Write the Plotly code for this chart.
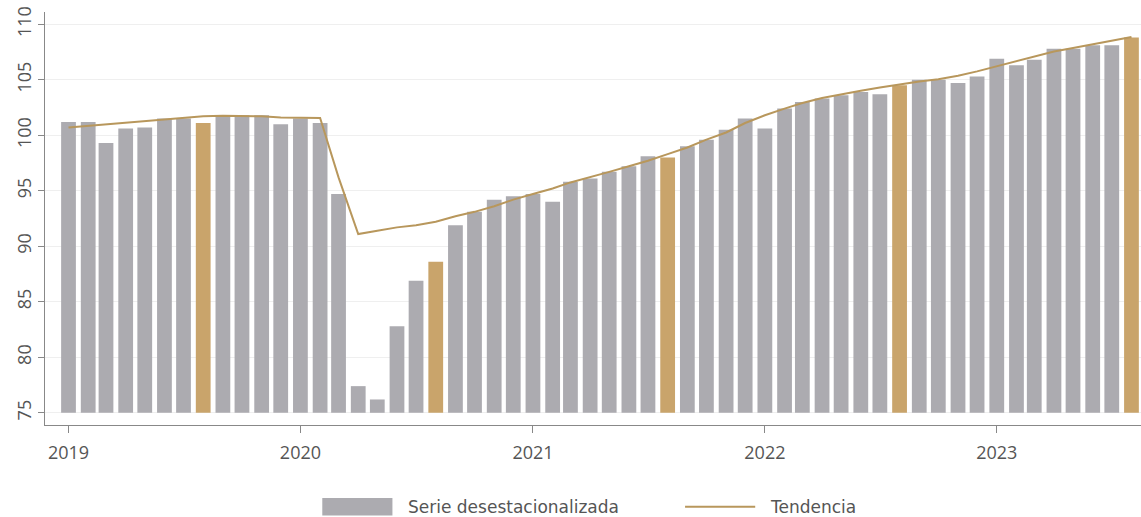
import pandas as pd
import plotly.graph_objects as go

# Monthly index, Jan 2019 - Aug 2023
months = pd.date_range("2019-01-01", "2023-08-01", freq="MS")

# Seasonally adjusted series (bars)
serie = [
    101.2, 101.2, 99.3, 100.6, 100.7, 101.5, 101.5, 101.1, 101.8, 101.8, 101.8, 101.0,
    101.5, 101.1, 94.7, 77.4, 76.2, 82.8, 86.9, 88.6, 91.9, 93.1, 94.2, 94.5,
    94.7, 94.0, 95.8, 96.1, 96.7, 97.2, 98.1, 98.0, 99.0, 99.6, 100.5, 101.5,
    100.6, 102.4, 103.0, 103.3, 103.6, 103.9, 103.7, 104.5, 105.0, 105.0, 104.7, 105.3,
    106.9, 106.3, 106.8, 107.8, 107.8, 108.1, 108.1, 108.8,
]

# Trend line
tendencia = [
    100.7, 100.85, 101.0, 101.1, 101.25, 101.4, 101.55, 101.7, 101.75, 101.75, 101.7, 101.6,
    101.55, 101.55, 96.2, 91.1, 91.4, 91.7, 91.9, 92.2, 92.7, 93.1, 93.6, 94.2,
    94.7, 95.2, 95.75, 96.2, 96.7, 97.2, 97.7, 98.3, 98.9, 99.6, 100.25, 101.1,
    101.8, 102.4, 102.9, 103.35, 103.7, 104.0, 104.3, 104.6, 104.85, 105.05, 105.35, 105.75,
    106.2, 106.65, 107.1, 107.55, 107.85, 108.2, 108.55, 108.85,
]

year_ticks = ["2019-01-01", "2020-01-01", "2021-01-01", "2022-01-01", "2023-01-01"]
year_labels = ["2019", "2020", "2021", "2022", "2023"]

BASE = 75
GRAY = "#acabb0"
GOLD = "#c9a46b"
LINE = "#b8975c"
TEXT = "#555555"

# August bars are highlighted in gold
colors = [GOLD if m.month == 8 else GRAY for m in months]

fig = go.Figure()

fig.add_trace(go.Bar(
    x=months,
    y=[v - BASE for v in serie],
    base=BASE,
    marker_color=colors,
    marker_line_width=0,
    name="Serie desestacionalizada",
))

fig.add_trace(go.Scatter(
    x=months,
    y=tendencia,
    mode="lines",
    line=dict(color=LINE, width=2),
    name="Tendencia",
))

# Legend drawn by hand so the swatches are wide like the original
leg_y = -0.198
fig.add_shape(type="rect", xref="paper", yref="paper",
              x0=0.253, x1=0.317, y0=leg_y - 0.021, y1=leg_y + 0.021,
              fillcolor=GRAY, line_width=0)
fig.add_annotation(xref="paper", yref="paper", x=0.330, y=leg_y,
                   xanchor="left", yanchor="middle", showarrow=False, borderpad=0,
                   text="Serie desestacionalizada",
                   font=dict(family="DejaVu Sans", size=17, color=TEXT))
fig.add_shape(type="line", xref="paper", yref="paper",
              x0=0.584, x1=0.648, y0=leg_y, y1=leg_y,
              line=dict(color=LINE, width=2))
fig.add_annotation(xref="paper", yref="paper", x=0.661, y=leg_y,
                   xanchor="left", yanchor="middle", showarrow=False, borderpad=0,
                   text="Tendencia",
                   font=dict(family="DejaVu Sans", size=17, color=TEXT))

fig.update_layout(
    width=1141,
    height=517,
    margin=dict(l=45, r=0, t=12, b=92),
    plot_bgcolor="white",
    paper_bgcolor="white",
    font=dict(family="Open Sans", size=15, color=TEXT),
    bargap=0.17,
    showlegend=False,
)

fig.update_xaxes(
    range=["2018-11-25", "2023-08-16"],
    tickvals=year_ticks,
    ticktext=year_labels,
    tickfont=dict(size=18),
    ticks="outside",
    ticklen=7,
    ticklabelstandoff=4,
    tickcolor="#888888",
    showline=True,
    linecolor="#888888",
    linewidth=1,
    showgrid=False,
    automargin=False,
)

fig.update_yaxes(
    range=[73.9, 111.1],
    tickvals=[75, 80, 85, 90, 95, 100, 105, 110],
    tickangle=-90,
    tickfont=dict(size=18),
    ticks="outside",
    ticklen=6,
    tickcolor="#888888",
    showline=True,
    linecolor="#888888",
    linewidth=1,
    showgrid=True,
    gridcolor="#efefef",
    zeroline=False,
    automargin=False,
)

fig.write_html("out.html", config={"displayModeBar": False},
               post_script="document.body.style.margin='0';")
